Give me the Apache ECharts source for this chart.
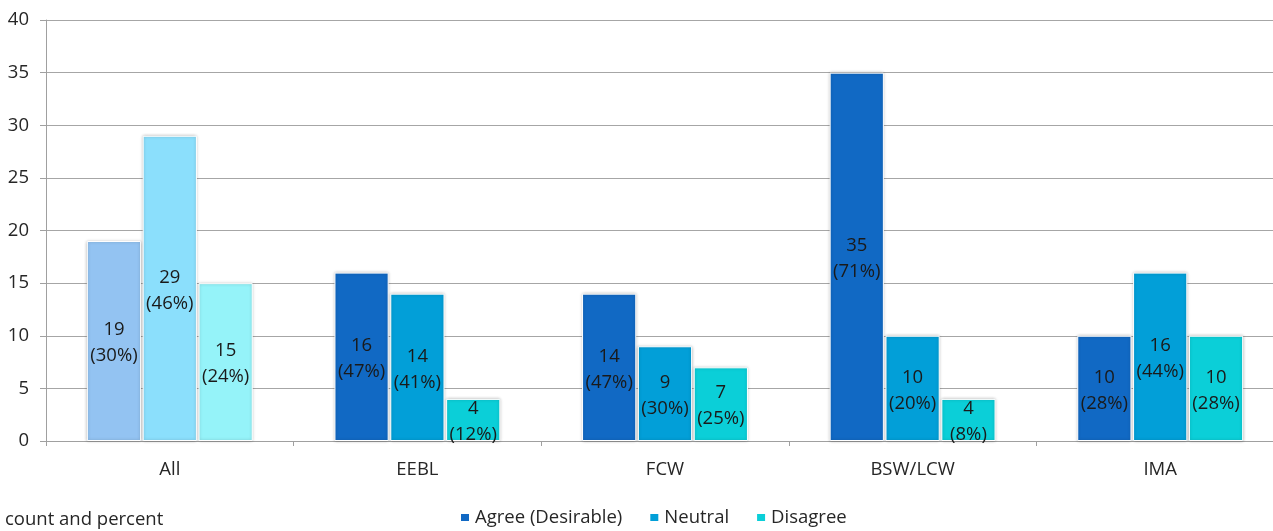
<!DOCTYPE html>
<html>
<head>
<meta charset="utf-8">
<script src="https://cdn.jsdelivr.net/npm/echarts@6/dist/echarts.min.js"></script>
<style>
  html, body { margin: 0; padding: 0; background: #fff; }
  #chart { width: 1273px; height: 531px; }
</style>
</head>
<body>
<div id="chart"></div>
<script>
// Categories and series
const categories = ['All', 'EEBL', 'FCW', 'BSW/LCW', 'IMA'];
const seriesNames = ['Agree (Desirable)', 'Neutral', 'Disagree'];

// Counts per category
const agreeCounts = [19, 16, 14, 35, 10];
const neutralCounts = [29, 14, 9, 10, 16];
const disagreeCounts = [15, 4, 7, 4, 10];

// Percent shares per category
const agreePct = [30, 47, 47, 71, 28];
const neutralPct = [46, 41, 30, 20, 44];
const disagreePct = [24, 12, 25, 8, 28];

const yTicks = { min: 0, max: 40, interval: 5 };

const baseColors = ['#1169c4', '#029fd8', '#0bcfd8'];
const allColors = ['#93c3f2', '#8bdffc', '#95f3f9'];

const FONT = '"Open Sans", "Noto Sans", sans-serif';
const FS = 18.5;

function makeSeries(idx, counts, pcts) {
  return {
    name: seriesNames[idx],
    type: 'bar',
    barGap: '3%',
    barCategoryGap: '33%',
    itemStyle: {
      color: baseColors[idx],
      borderColor: '#ffffff',
      borderWidth: 1,
      shadowBlur: 3,
      shadowColor: 'rgba(0,0,0,0.25)'
    },
    label: {
      show: true,
      position: 'inside',
      offset: [0, 2],
      color: '#1a1a1a',
      fontFamily: FONT,
      fontSize: FS,
      lineHeight: 26,
      formatter: p => counts[p.dataIndex] + '\n(' + pcts[p.dataIndex] + '%)'
    },
    data: counts.map((v, i) => i === 0
      ? { value: v, itemStyle: { color: allColors[idx] } }
      : v)
  };
}

const chart = echarts.init(document.getElementById('chart'), null, { renderer: 'canvas' });
chart.setOption({
  animation: false,
  backgroundColor: '#ffffff',
  color: baseColors,
  // plot area runs slightly past the right edge of the canvas
  grid: {
    left: 46, top: 20, width: 1238, height: 421,
    containLabel: false, outerBoundsMode: 'none'
  },
  xAxis: {
    type: 'category',
    data: categories,
    axisLine: { lineStyle: { color: '#a0a0a0', width: 1 } },
    axisTick: { show: true, length: 5, lineStyle: { color: '#a0a0a0' } },
    axisLabel: { color: '#262626', fontFamily: FONT, fontSize: FS, margin: 19 }
  },
  yAxis: {
    type: 'value',
    min: yTicks.min,
    max: yTicks.max,
    interval: yTicks.interval,
    axisLine: { show: true, lineStyle: { color: '#a0a0a0', width: 1 } },
    axisTick: { show: true, length: 6, lineStyle: { color: '#a0a0a0' } },
    splitLine: { show: true, lineStyle: { color: '#a6a6a6', width: 1 } },
    axisLabel: { color: '#262626', fontFamily: FONT, fontSize: FS, margin: 17 }
  },
  legend: {
    data: seriesNames,
    left: 454,
    top: 503,
    icon: 'rect',
    itemWidth: 10,
    itemHeight: 9,
    itemGap: 26,
    textStyle: { color: '#262626', fontFamily: FONT, fontSize: FS }
  },
  graphic: [{
    type: 'text',
    left: 5,
    top: 510,
    style: { text: 'count and percent', fill: '#262626', font: FS + 'px ' + FONT }
  }],
  series: [
    makeSeries(0, agreeCounts, agreePct),
    makeSeries(1, neutralCounts, neutralPct),
    makeSeries(2, disagreeCounts, disagreePct)
  ]
});
</script>
</body>
</html>
